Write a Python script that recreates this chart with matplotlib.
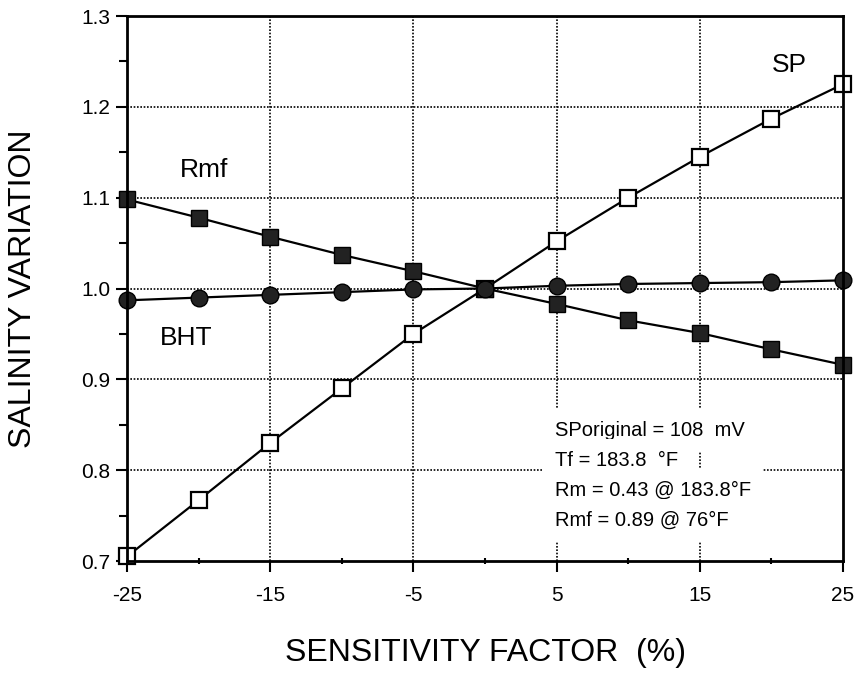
import matplotlib
matplotlib.use("Agg")
import matplotlib.pyplot as plt
from matplotlib.ticker import MultipleLocator

plt.rcParams['font.family'] = ['Liberation Sans', 'DejaVu Sans']

x = [-25, -20, -15, -10, -5, 0, 5, 10, 15, 20, 25]
sp = [0.705, 0.767, 0.830, 0.890, 0.950, 1.000, 1.052, 1.100, 1.145, 1.187, 1.225]
rmf = [1.098, 1.078, 1.057, 1.037, 1.019, 1.000, 0.983, 0.965, 0.951, 0.933, 0.916]
bht = [0.987, 0.990, 0.993, 0.996, 0.999, 1.000, 1.003, 1.005, 1.006, 1.007, 1.009]
xticks = [-25, -15, -5, 5, 15, 25]
xtick_labels = ["-25", "-15", "-5", "5", "15", "25"]
yticks = [0.7, 0.8, 0.9, 1.0, 1.1, 1.2, 1.3]
ytick_labels = ["0.7", "0.8", "0.9", "1.0", "1.1", "1.2", "1.3"]
note_lines = ["SPoriginal = 108  mV", "Tf = 183.8  °F", "Rm = 0.43 @ 183.8°F", "Rmf = 0.89 @ 76°F"]

fig = plt.figure(figsize=(8.6, 6.73), dpi=100)
ax = fig.add_axes([0.1477, 0.1664, 0.8326, 0.8098])

ax.set_xlim(-25, 25)
ax.set_ylim(0.7, 1.3)

for gx in [-15, -5, 5, 15]:
    ax.axvline(gx, color='black', linestyle=(0, (1, 1)), linewidth=1.2, zorder=1)
for gy in [0.8, 0.9, 1.0, 1.1, 1.2]:
    ax.axhline(gy, color='black', linestyle=(0, (1, 1)), linewidth=1.2, zorder=1)

ax.plot(x, sp, color='black', linewidth=1.6, marker='s', markersize=12,
        markerfacecolor='white', markeredgecolor='black', markeredgewidth=1.6, zorder=4, clip_on=False)
ax.plot(x, rmf, color='black', linewidth=1.6, marker='s', markersize=12,
        markerfacecolor='#222222', markeredgecolor='black', zorder=5, clip_on=False)
ax.plot(x, bht, color='black', linewidth=1.6, marker='o', markersize=12,
        markerfacecolor='#222222', markeredgecolor='black', zorder=5, clip_on=False)

ax.text(-21.3, 1.13, "Rmf", fontsize=19, va='center', ha='left')
ax.text(-22.7, 0.946, "BHT", fontsize=19, va='center', ha='left')
ax.text(20.0, 1.246, "SP", fontsize=19, va='center', ha='left')

note_y = [0.844, 0.811, 0.778, 0.745]
for ty, line in zip(note_y, note_lines):
    ax.text(4.9, ty, line, fontsize=14.5, va='center', ha='left', zorder=6,
            bbox=dict(boxstyle='square,pad=0.6', facecolor='white', edgecolor='none'))

ax.set_xticks(xticks)
ax.set_xticklabels(xtick_labels)
ax.set_yticks(yticks)
ax.set_yticklabels(ytick_labels)
ax.xaxis.set_minor_locator(MultipleLocator(5))
ax.yaxis.set_minor_locator(MultipleLocator(0.05))
ax.tick_params(axis='both', which='major', labelsize=15, length=8, width=1.5, direction='out')
ax.tick_params(axis='x', which='minor', length=5, width=1.5, direction='inout')
ax.tick_params(axis='y', which='minor', length=6, width=1.5, direction='out')
ax.tick_params(axis='x', which='major', pad=10)
ax.tick_params(axis='y', which='major', pad=4)

for s in ax.spines.values():
    s.set_linewidth(2)
    s.set_zorder(7)

ax.set_xlabel("SENSITIVITY FACTOR  (%)", fontsize=23, labelpad=24)
ax.set_ylabel("SALINITY VARIATION", fontsize=23, labelpad=31)

fig.savefig("out.png", dpi=100)
